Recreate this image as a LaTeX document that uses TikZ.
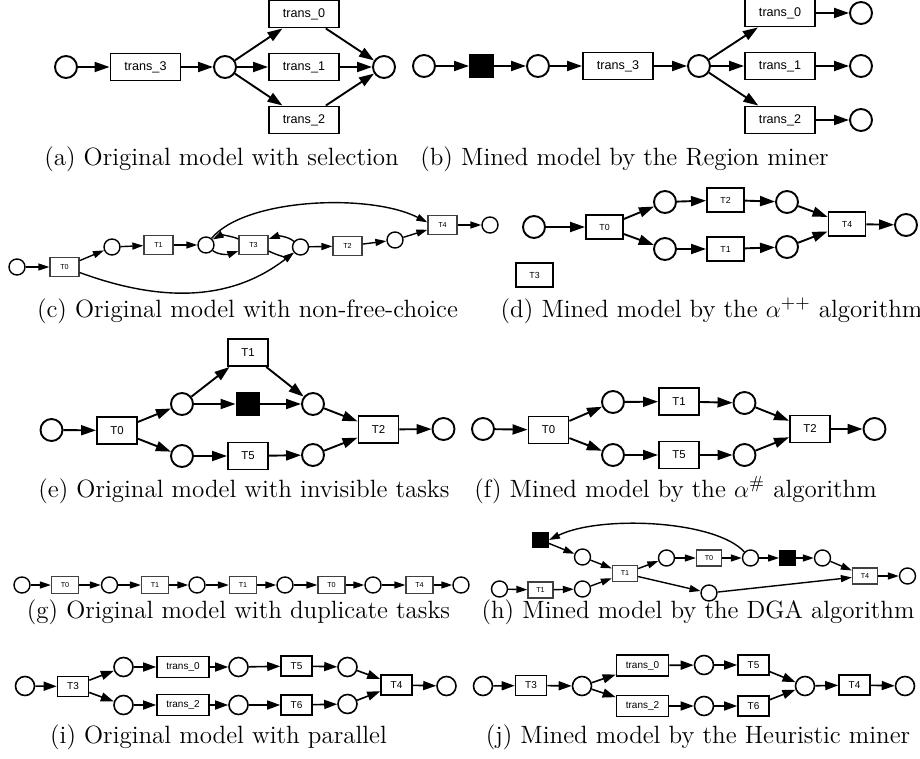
\documentclass[tikz,border=0pt]{standalone}
\usepackage{fontspec}
\newfontfamily\sansf{Liberation Sans}
\usetikzlibrary{arrows.meta}
\begin{document}
\begin{tikzpicture}[x=0.5pt,y=-0.5pt,
  place/.style={circle,draw,fill=white,inner sep=0pt,minimum size=11pt,line width=0.95pt},
  trans/.style={rectangle,draw,fill=white,inner sep=0pt,minimum width=35pt,minimum height=13.5pt,line width=0.95pt,font=\sansf\fontsize{6.3}{7}\selectfont},
  silent/.style={rectangle,draw,fill=black,inner sep=0pt,minimum size=11.5pt,line width=0.95pt},
  flow/.style={-{Triangle[length=7.5pt,width=5pt]},line width=0.95pt},
  subcap/.style={anchor=base,inner sep=0pt,font=\fontsize{12.5}{14}\selectfont}]
\useasboundingbox (0,0) rectangle (920,759);

% ---------- (a) selection ----------
\node[place] (a0) at (66,67) {};
\node[trans] (a1) at (145.5,67) {trans\_3};
\node[place] (a2) at (225,67) {};
\node[trans] (a3) at (304,14) {trans\_0};
\node[trans] (a4) at (304,67) {trans\_1};
\node[trans] (a5) at (304,120) {trans\_2};
\node[place] (a6) at (384,67) {};
\draw[flow] (a0) -- (a1);
\draw[flow] (a1) -- (a2);
\draw[flow] (a2) -- (a3);
\draw[flow] (a2) -- (a4);
\draw[flow] (a2) -- (a5);
\draw[flow] (a3) -- (a6);
\draw[flow] (a4) -- (a6);
\draw[flow] (a5) -- (a6);
\node[subcap] (capa) at (221.5,166) {(a) Original model with selection};

% ---------- (b) region miner ----------
\node[place] (b0) at (424,66) {};
\node[silent] (b1) at (481.5,66) {};
\node[place] (b2) at (538,66) {};
\node[trans] (b3) at (618,66) {trans\_3};
\node[place] (b4) at (699,66) {};
\node[trans] (b5) at (780,13) {trans\_0};
\node[trans] (b6) at (780,66) {trans\_1};
\node[trans] (b7) at (780,120) {trans\_2};
\node[place] (b8) at (861,13) {};
\node[place] (b9) at (861,66) {};
\node[place] (b10) at (861,120) {};
\draw[flow] (b0) -- (b1);
\draw[flow] (b1) -- (b2);
\draw[flow] (b2) -- (b3);
\draw[flow] (b3) -- (b4);
\draw[flow] (b4) -- (b5);
\draw[flow] (b4) -- (b6);
\draw[flow] (b4) -- (b7);
\draw[flow] (b5) -- (b8);
\draw[flow] (b6) -- (b9);
\draw[flow] (b7) -- (b10);
\node[subcap] (capb) at (624.5,166) {(b) Mined model by the Region miner};

% ---------- (c) non-free-choice ----------
\begin{scope}[place/.append style={minimum size=8pt,line width=0.7pt},
  trans/.append style={minimum width=14.5pt,minimum height=9.5pt,line width=0.65pt,draw=black!75,font=\sansf\fontsize{3.6}{4}\selectfont},
  flow/.append style={line width=0.7pt,-{Triangle[length=5.5pt,width=3.5pt]}}]
\node[place] (c0) at (17,267) {};
\node[trans] (c1) at (64.5,267) {T0};
\node[place] (c2) at (112,247) {};
\node[trans] (c3) at (158.5,245) {T1};
\node[place] (c4) at (206,245) {};
\node[trans] (c5) at (253.5,245) {T3};
\node[place] (c6) at (300.5,247) {};
\node[trans] (c7) at (347.5,246) {T2};
\node[place] (c8) at (395,240) {};
\node[trans] (c9) at (442.5,225) {T4};
\node[place] (c10) at (490,225) {};
\draw[flow] (c0) -- (c1);
\draw[flow] (c1) -- (c2);
\draw[flow] (c2) -- (c3);
\draw[flow] (c3) -- (c4);
\draw[flow] (c4.-40) .. controls (220,256) and (230,254) .. ([yshift=-3pt]c5.west);
\draw[flow] ([yshift=3pt]c5.west) .. controls (232,236) and (221,235) .. (c4.40);
\draw[flow] (c6.140) .. controls (288,236) and (277,236) .. ([yshift=3pt]c5.east);
\draw[flow] ([yshift=-3pt]c5.east) .. controls (278,256) and (288,257) .. (c6.-140);
\draw[flow] (c1.-20) .. controls (160,302) and (230,302) .. (c6.-140);
\draw[flow] (c4.50) .. controls (245,198) and (370,193) .. (c9.170);
\draw[flow] (c6) -- (c7);
\draw[flow] (c7) -- (c8);
\draw[flow] (c8) -- (c9);
\draw[flow] (c9) -- (c10);
\end{scope}
\node[subcap] (capc) at (247.5,317) {(c) Original model with non-free-choice};

% ---------- (d) alpha++ ----------
\begin{scope}[trans/.append style={minimum width=18.5pt,minimum height=12pt,font=\sansf\fontsize{4.4}{5}\selectfont}]
\node[place] (d0) at (534,227) {};
\node[trans] (d1) at (604.5,227) {T0};
\node[place] (d2) at (665,202) {};
\node[trans] (d3) at (725.5,200) {T2};
\node[place] (d4) at (787,202) {};
\node[place] (d5) at (665,249) {};
\node[trans] (d6) at (725.5,249) {T1};
\node[place] (d7) at (787,247) {};
\node[trans] (d8) at (847,224) {T4};
\node[place] (d9) at (906,225) {};
\node[trans] (d10) at (534.5,275) {T3};
\draw[flow] (d0) -- (d1);
\draw[flow] (d1) -- (d2);
\draw[flow] (d1) -- (d5);
\draw[flow] (d2) -- (d3);
\draw[flow] (d3) -- (d4);
\draw[flow] (d5) -- (d6);
\draw[flow] (d6) -- (d7);
\draw[flow] (d4) -- (d8);
\draw[flow] (d7) -- (d8);
\draw[flow] (d8) -- (d9);
\end{scope}
\node[subcap] (capd) at (711.5,317) {(d) Mined model by the $\alpha^{++}$ algorithm};

% ---------- (e) invisible tasks ----------
\begin{scope}[trans/.append style={minimum width=20pt,minimum height=13.5pt,font=\sansf\fontsize{5.7}{6}\selectfont}]
\node[place] (e0) at (51.5,430) {};
\node[trans] (e1) at (117,430.5) {T0};
\node[place] (e2) at (182,404) {};
\node[trans] (e3) at (248,352.5) {T1};
\node[silent] (e4) at (248,404) {};
\node[place] (e5) at (313,404) {};
\node[trans] (e6) at (378.5,429.5) {T2};
\node[place] (e7) at (443.5,429) {};
\node[place] (e8) at (182,456) {};
\node[trans] (e9) at (248,456) {T5};
\node[place] (e10) at (313,455) {};
\draw[flow] (e0) -- (e1);
\draw[flow] (e1) -- (e2);
\draw[flow] (e1) -- (e8);
\draw[flow] (e2) -- (e3);
\draw[flow] (e2) -- (e4);
\draw[flow] (e3) -- (e5);
\draw[flow] (e4) -- (e5);
\draw[flow] (e5) -- (e6);
\draw[flow] (e8) -- (e9);
\draw[flow] (e9) -- (e10);
\draw[flow] (e10) -- (e6);
\draw[flow] (e6) -- (e7);

% ---------- (f) alpha# ----------
\node[place] (f0) at (483,429) {};
\node[trans] (f1) at (548.5,430) {T0};
\node[place] (f2) at (613,402) {};
\node[trans] (f3) at (679,401.5) {T1};
\node[place] (f4) at (744.5,403) {};
\node[trans] (f5) at (810,429) {T2};
\node[place] (f6) at (874.5,429) {};
\node[place] (f7) at (613,455) {};
\node[trans] (f8) at (679,455) {T5};
\node[place] (f9) at (744.5,455) {};
\draw[flow] (f0) -- (f1);
\draw[flow] (f1) -- (f2);
\draw[flow] (f1) -- (f7);
\draw[flow] (f2) -- (f3);
\draw[flow] (f3) -- (f4);
\draw[flow] (f4) -- (f5);
\draw[flow] (f7) -- (f8);
\draw[flow] (f8) -- (f9);
\draw[flow] (f9) -- (f5);
\draw[flow] (f5) -- (f6);
\end{scope}
\node[subcap] (cape) at (244,497) {(e) Original model with invisible tasks};
\node[subcap] (capf) at (675.5,497) {(f) Mined model by the $\alpha^{\#}$ algorithm};

% ---------- (g) duplicate tasks and (h) DGA ----------
\begin{scope}[place/.append style={minimum size=8pt,line width=0.7pt},
  trans/.append style={minimum width=13.5pt,minimum height=8.5pt,line width=0.65pt,draw=black!75,font=\sansf\fontsize{3.6}{4}\selectfont},
  silent/.append style={minimum size=7.5pt},
  flow/.append style={line width=0.7pt,-{Triangle[length=5.5pt,width=3.5pt]}}]
\node[place] (g0) at (22,585) {};
\node[trans] (g1) at (65,585) {T0};
\node[place] (g2) at (109.5,585) {};
\node[trans] (g3) at (155,585) {T1};
\node[place] (g4) at (197,585) {};
\node[trans] (g5) at (243,585) {T1};
\node[place] (g6) at (285,585) {};
\node[trans] (g7) at (331.5,585) {T0};
\node[place] (g8) at (373,585) {};
\node[trans] (g9) at (419.5,585) {T4};
\node[place] (g10) at (461,585) {};
\draw[flow] (g0) -- (g1);
\draw[flow] (g1) -- (g2);
\draw[flow] (g2) -- (g3);
\draw[flow] (g3) -- (g4);
\draw[flow] (g4) -- (g5);
\draw[flow] (g5) -- (g6);
\draw[flow] (g6) -- (g7);
\draw[flow] (g7) -- (g8);
\draw[flow] (g8) -- (g9);
\draw[flow] (g9) -- (g10);

\begin{scope}[trans/.append style={minimum width=12.5pt,minimum height=8pt}]
\node[silent] (h0) at (540.5,540) {};
\node[place] (h1) at (582.5,557) {};
\node[trans] (h2) at (625,573.5) {T1};
\node[place] (h3) at (666.5,558) {};
\node[trans] (h4) at (709,558) {T0};
\node[place] (h5) at (750.5,558) {};
\node[silent] (h6) at (787.5,558) {};
\node[place] (h7) at (822.5,558) {};
\node[trans] (h8) at (865,576) {T4};
\node[place] (h9) at (907.5,576) {};
\node[place] (h10) at (499.5,589) {};
\node[trans] (h11) at (540.5,590) {T1};
\node[place] (h12) at (582.5,589) {};
\node[place] (h13) at (709,593) {};
\draw[flow] (h10) -- (h11);
\draw[flow] (h11) -- (h12);
\draw[flow] (h12) -- (h2);
\draw[flow] (h0) -- (h1);
\draw[flow] (h1) -- (h2);
\draw[flow] (h2) -- (h3);
\draw[flow] (h3) -- (h4);
\draw[flow] (h4) -- (h5);
\draw[flow] (h5) -- (h6);
\draw[flow] (h6) -- (h7);
\draw[flow] (h7) -- (h8);
\draw[flow] (h5.135) .. controls (715,520) and (600,515) .. (h0.east);
\draw[flow] (h2) -- (h13);
\draw[flow] (h13) -- (h8);
\draw[flow] (h8) -- (h9);
\end{scope}
\end{scope}
\node[subcap] (capg) at (238.5,618) {(g) Original model with duplicate tasks};
\node[subcap] (caph) at (698,618) {(h) Mined model by the DGA algorithm};

% ---------- (i) parallel and (j) heuristic miner ----------
\begin{scope}[place/.append style={minimum size=9.5pt,line width=0.8pt},
  trans/.append style={minimum width=15.5pt,minimum height=10pt,line width=0.8pt,font=\sansf\fontsize{5}{6}\selectfont},
  wide/.style={minimum width=26pt,minimum height=10.5pt},
  flow/.append style={line width=0.8pt,-{Triangle[length=6.5pt,width=4.5pt]}}]
\node[place] (i0) at (25,686) {};
\node[trans] (i1) at (73,686.5) {T3};
\node[place] (i2) at (123.5,667) {};
\node[trans,wide] (i3) at (183,667) {trans\_0};
\node[place] (i4) at (238.5,667) {};
\node[trans] (i5) at (296.5,666) {T5};
\node[place] (i6) at (347.5,667) {};
\node[trans] (i7) at (396.5,685) {T4};
\node[place] (i8) at (446.5,686) {};
\node[place] (i9) at (123.5,705) {};
\node[trans,wide] (i10) at (183,705) {trans\_2};
\node[place] (i11) at (238.5,705) {};
\node[trans] (i12) at (296.5,705) {T6};
\node[place] (i13) at (347.5,704) {};
\draw[flow] (i0) -- (i1);
\draw[flow] (i1) -- (i2);
\draw[flow] (i1) -- (i9);
\draw[flow] (i2) -- (i3);
\draw[flow] (i3) -- (i4);
\draw[flow] (i4) -- (i5);
\draw[flow] (i5) -- (i6);
\draw[flow] (i6) -- (i7);
\draw[flow] (i9) -- (i10);
\draw[flow] (i10) -- (i11);
\draw[flow] (i11) -- (i12);
\draw[flow] (i12) -- (i13);
\draw[flow] (i13) -- (i7);
\draw[flow] (i7) -- (i8);

\node[place] (j0) at (483,686) {};
\node[trans] (j1) at (531,685.5) {T3};
\node[place] (j2) at (582,686) {};
\node[trans,wide] (j3) at (642.5,665.5) {trans\_0};
\node[place] (j4) at (704,665) {};
\node[trans] (j5) at (753.5,665) {T5};
\node[place] (j6) at (805,686) {};
\node[trans] (j7) at (854.5,685) {T4};
\node[place] (j8) at (905,686) {};
\node[trans,wide] (j9) at (642.5,706) {trans\_2};
\node[place] (j10) at (704,706) {};
\node[trans] (j11) at (753.5,706) {T6};
\draw[flow] (j0) -- (j1);
\draw[flow] (j1) -- (j2);
\draw[flow] (j2) -- (j3);
\draw[flow] (j2) -- (j9);
\draw[flow] (j3) -- (j4);
\draw[flow] (j4) -- (j5);
\draw[flow] (j5) -- (j6);
\draw[flow] (j9) -- (j10);
\draw[flow] (j10) -- (j11);
\draw[flow] (j11) -- (j6);
\draw[flow] (j6) -- (j7);
\draw[flow] (j7) -- (j8);
\end{scope}
\node[subcap] (capi) at (218.5,743) {(i) Original model with parallel};
\node[subcap] (capj) at (698,743) {(j) Mined model by the Heuristic miner};
\end{tikzpicture}
\end{document}
